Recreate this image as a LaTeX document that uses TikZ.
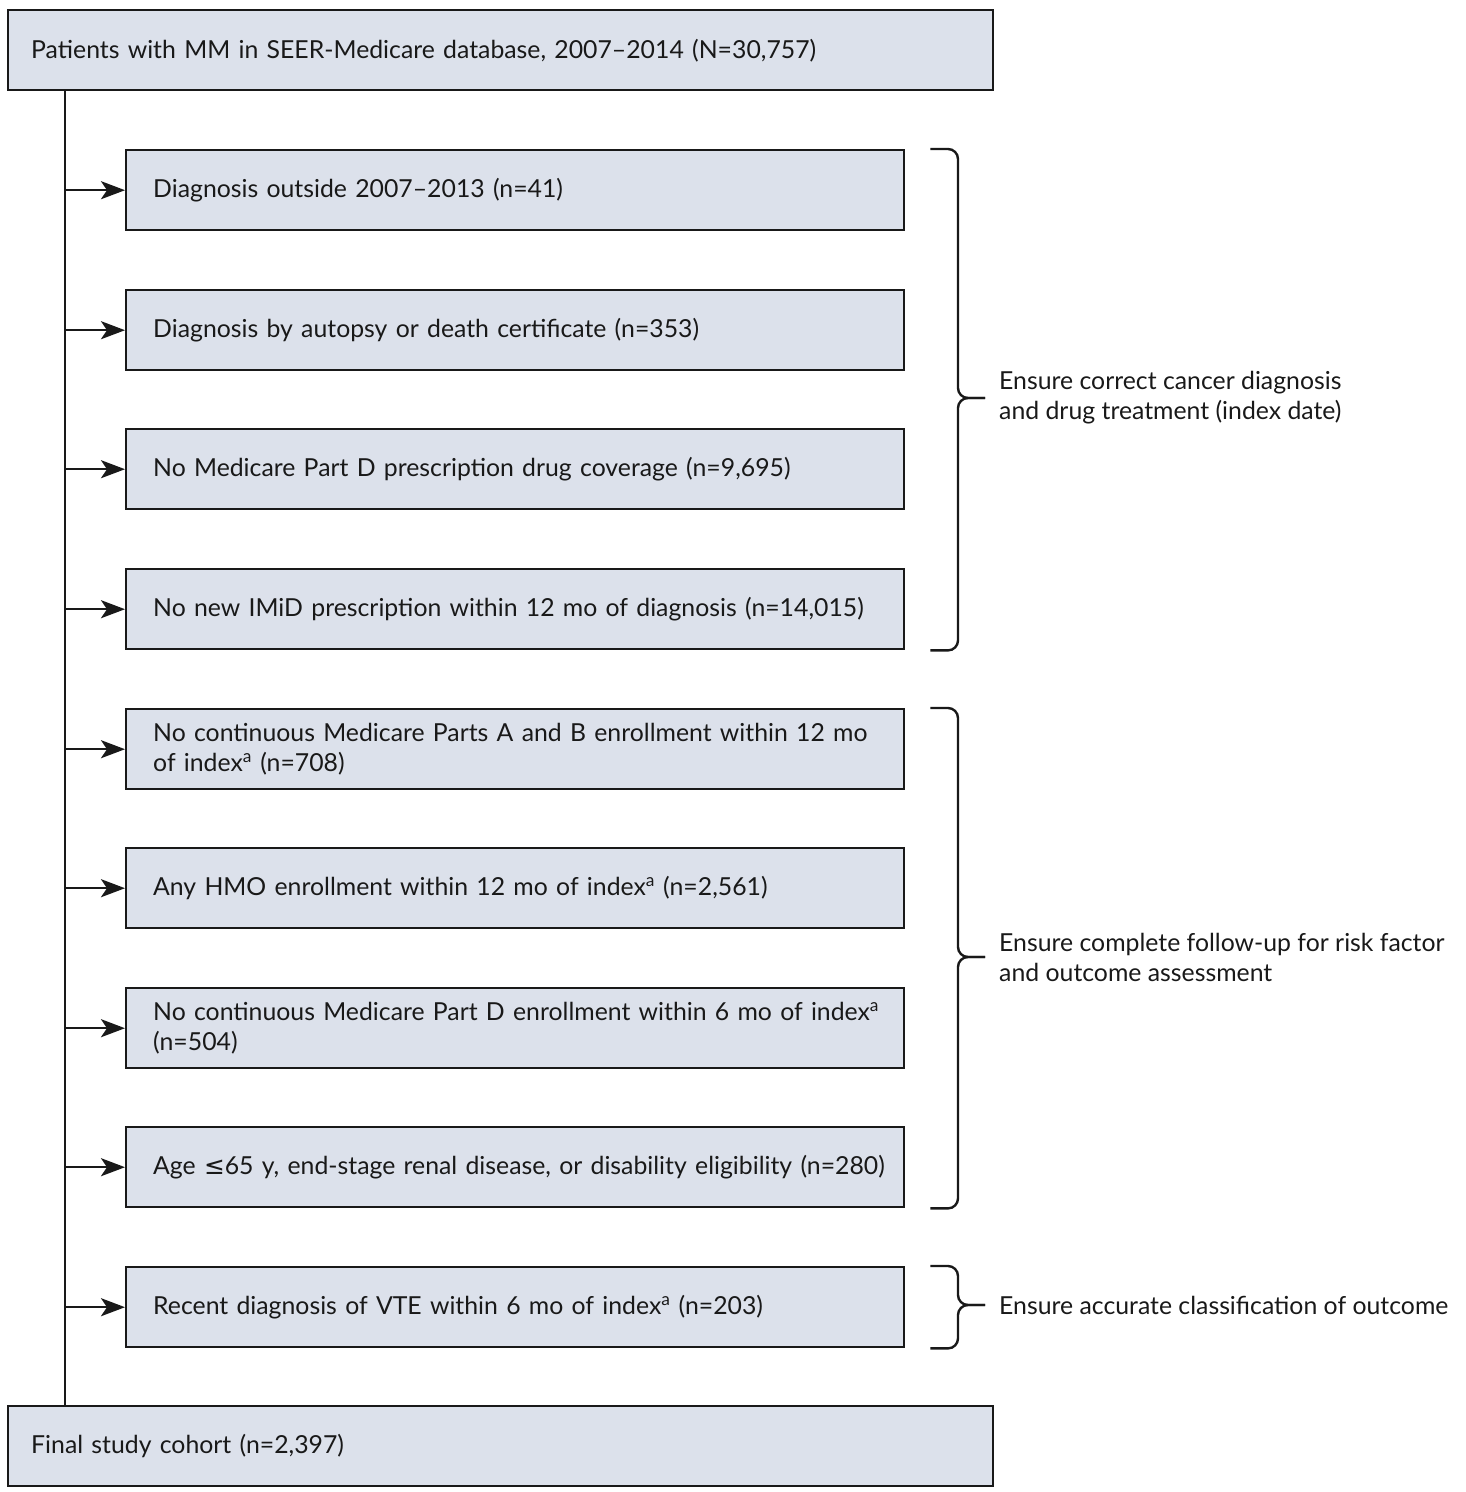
\documentclass[tikz,border=0pt]{standalone}
\usepackage{fontspec}
\setmainfont{Lato}
\newfontfamily\symfont{DejaVu Sans}
\usepackage{tikz}
\usetikzlibrary{arrows.meta}
\definecolor{boxfill}{RGB}{220,225,235}
\definecolor{inkgray}{RGB}{25,25,25}

\begin{document}
\begin{tikzpicture}[x=1pt, y=-1pt, line width=2.4pt, draw=inkgray,
  every node/.style={text=inkgray, font=\fontsize{24.8}{30}\selectfont},
  bigbox/.style={draw, fill=boxfill, anchor=north west, minimum width=985pt,
    minimum height=80pt, text width=939pt, inner xsep=23pt, align=left},
  exbox/.style={draw, fill=boxfill, anchor=north west, minimum width=778pt,
    minimum height=80pt, text width=724pt, inner xsep=27pt, align=left},
  flow/.style={-{Stealth[length=24pt, width=18pt, inset=6pt]}},
  brace/.style={rounded corners=10pt},
  side/.style={anchor=west, align=left, inner xsep=13pt}]
\useasboundingbox (0,0) rectangle (1466,1492);

\node[bigbox] (top) at (7,9) {Patients with MM in SEER-Medicare database, 2007--2014 (N=30,757)};

\node[exbox] (ex1) at (125,149) {Diagnosis outside 2007--2013 (n=41)};
\node[exbox] (ex2) at (125,289) {Diagnosis by autopsy or death certificate (n=353)};
\node[exbox] (ex3) at (125,428) {No Medicare Part D prescription drug coverage (n=9,695)};
\node[exbox] (ex4) at (125,568) {No new IMiD prescription within 12 mo of diagnosis (n=14,015)};
\node[exbox] (ex5) at (125,708) {\mbox{No continuous Medicare Parts A and B enrollment within 12 mo}\\of index\textsuperscript{a} (n=708)};
\node[exbox] (ex6) at (125,847) {Any HMO enrollment within 12 mo of index\textsuperscript{a} (n=2,561)};
\node[exbox] (ex7) at (125,987) {\mbox{No continuous Medicare Part D enrollment within 6 mo of index\textsuperscript{a}}\\(n=504)};
\node[exbox] (ex8) at (125,1126) {\mbox{Age {\symfont ≤}65 y, end-stage renal disease, or disability eligibility (n=280)}};
\node[exbox] (ex9) at (125,1266) {Recent diagnosis of VTE within 6 mo of index\textsuperscript{a} (n=203)};

\node[bigbox] (final) at (7,1405) {Final study cohort (n=2,397)};

% main line
\coordinate (trunk) at (65,0);
\draw (trunk |- top.south) -- (trunk |- final.north);
\draw[flow] (trunk |- ex1.west) -- (ex1.west);
\draw[flow] (trunk |- ex2.west) -- (ex2.west);
\draw[flow] (trunk |- ex3.west) -- (ex3.west);
\draw[flow] (trunk |- ex4.west) -- (ex4.west);
\draw[flow] (trunk |- ex5.west) -- (ex5.west);
\draw[flow] (trunk |- ex6.west) -- (ex6.west);
\draw[flow] (trunk |- ex7.west) -- (ex7.west);
\draw[flow] (trunk |- ex8.west) -- (ex8.west);
\draw[flow] (trunk |- ex9.west) -- (ex9.west);

% braces
\coordinate (tip1) at (985,398);
\coordinate (tip2) at (985,957);
\coordinate (tip3) at (985,1305);
\draw[brace] ([xshift=25pt]ex1.north east) -| ([xshift=-27pt]tip1) -- (tip1);
\draw[brace] ([xshift=25pt]ex4.south east) -| ([xshift=-27pt]tip1) -- (tip1);
\draw[brace] ([xshift=25pt]ex5.north east) -| ([xshift=-27pt]tip2) -- (tip2);
\draw[brace] ([xshift=25pt]ex8.south east) -| ([xshift=-27pt]tip2) -- (tip2);
\draw[brace] ([xshift=25pt]ex9.north east) -| ([xshift=-27pt]tip3) -- (tip3);
\draw[brace] ([xshift=25pt]ex9.south east) -| ([xshift=-27pt]tip3) -- (tip3);

\node[side] (lab1) at (tip1) {Ensure correct cancer diagnosis\\and drug treatment (index date)};
\node[side] (lab2) at (tip2) {Ensure complete follow-up for risk factor\\and outcome assessment};
\node[side] (lab3) at (tip3) {Ensure accurate classification of outcome};
\end{tikzpicture}
\end{document}
